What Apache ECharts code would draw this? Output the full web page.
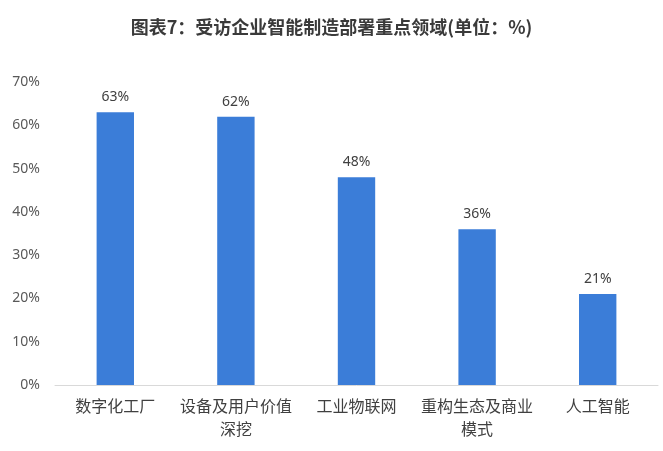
<!DOCTYPE html>
<html>
<head>
<meta charset="utf-8">
<script src="https://cdn.jsdelivr.net/npm/echarts@6/dist/echarts.min.js"></script>
<style>
  html, body { margin: 0; padding: 0; background: #ffffff; }
  #chart { width: 663px; height: 451px; }
</style>
</head>
<body>
<div id="chart"></div>
<script>
// Key areas of smart-manufacturing deployment among surveyed companies (%)
const categories = ['数字化工厂', '设备及用户价值\n深挖', '工业物联网', '重构生态及商业\n模式', '人工智能'];
const shares = [63, 62, 48, 36, 21];
const yTicks = { min: 0, max: 70, interval: 10 };

const chart = echarts.init(document.getElementById('chart'), null, { renderer: 'canvas' });
chart.setOption({
  backgroundColor: '#ffffff',
  animation: false,
  title: {
    text: '图表7：受访企业智能制造部署重点领域(单位：%)',
    left: 'center',
    top: 13,
    textStyle: {
      fontFamily: 'Noto Sans CJK SC',
      fontSize: 18,
      fontWeight: 'bold',
      color: '#3a3a3a'
    }
  },
  grid: { left: 55, right: 5, top: 82, bottom: 66, outerBoundsMode: 'none' },
  xAxis: {
    type: 'category',
    data: categories,
    axisLine: { lineStyle: { color: '#d9d9d9', width: 1 } },
    axisTick: { show: false },
    axisLabel: {
      interval: 0,
      margin: 9,
      fontFamily: 'Noto Sans CJK SC',
      fontSize: 16,
      lineHeight: 23,
      color: '#404040'
    }
  },
  yAxis: {
    type: 'value',
    min: yTicks.min,
    max: yTicks.max,
    interval: yTicks.interval,
    axisLine: { show: false },
    axisTick: { show: false },
    splitLine: { show: false },
    axisLabel: {
      margin: 15,
      fontFamily: 'Noto Sans, sans-serif',
      fontSize: 14,
      color: '#595959',
      formatter: v => v + '%'
    }
  },
  series: [{
    type: 'bar',
    data: shares,
    barWidth: '31%',
    itemStyle: { color: '#3b7dd8' },
    label: {
      show: true,
      position: 'top',
      distance: 8,
      fontFamily: 'Noto Sans, sans-serif',
      fontSize: 14,
      color: '#404040',
      formatter: p => p.value + '%'
    }
  }]
});
</script>
</body>
</html>
